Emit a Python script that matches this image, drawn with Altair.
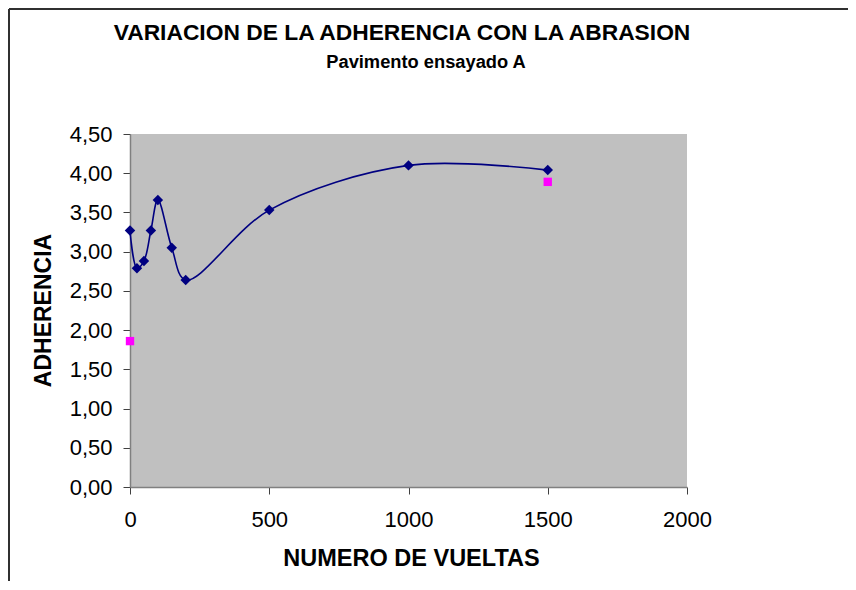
import altair as alt
import pandas as pd

# Data
vueltas = [0, 25, 50, 75, 100, 150, 200, 500, 1000, 1500]
adherencia = [3.27, 2.79, 2.88, 3.27, 3.66, 3.05, 2.64, 3.53, 4.10, 4.04]
vueltas_b = [0, 1500]
adherencia_b = [1.86, 3.89]

x_ticks = [0, 500, 1000, 1500, 2000]
y_ticks = [0, 0.5, 1.0, 1.5, 2.0, 2.5, 3.0, 3.5, 4.0, 4.5]

title_text = "VARIACION DE LA ADHERENCIA CON LA ABRASION"
subtitle_text = "Pavimento ensayado A"

df_a = pd.DataFrame({"vueltas": vueltas, "adherencia": adherencia})
df_b = pd.DataFrame({"vueltas": vueltas_b, "adherencia": adherencia_b})

FONT = "Liberation Sans"

x_enc = alt.X(
    "vueltas:Q",
    scale=alt.Scale(domain=[0, 2000], nice=False),
    axis=alt.Axis(
        values=x_ticks,
        title="NUMERO DE VUELTAS",
        grid=False,
        format="d",
        labelFlush=False,
        labelFontSize=22,
        labelFont=FONT,
        labelColor="#000000",
        labelBaseline="alphabetic",
        labelPadding=32,
        tickSize=7,
        tickColor="#404040",
        domainColor="#808080",
        domainWidth=1.5,
        titleFont=FONT,
        titleFontSize=23.5,
        titleFontWeight="bold",
        titleColor="#000000",
        titleX=281,
        titleY=78,
        titleBaseline="alphabetic",
        titleAlign="center",
    ),
)

y_enc = alt.Y(
    "adherencia:Q",
    scale=alt.Scale(domain=[0, 4.5], nice=False),
    axis=alt.Axis(
        values=y_ticks,
        title="ADHERENCIA",
        grid=False,
        labelFlush=False,
        labelExpr="replace(format(datum.value, '.2f'), '.', ',')",
        labelFontSize=22,
        labelFont=FONT,
        labelColor="#000000",
        labelPadding=11,
        tickSize=7,
        tickColor="#404040",
        domainColor="#808080",
        domainWidth=1.5,
        titleFont=FONT,
        titleFontSize=23,
        titleFontWeight="bold",
        titleColor="#000000",
        titleX=-80,
        titleY=176,
        titleAngle=270,
        titleBaseline="alphabetic",
        titleAlign="center",
    ),
)

base_a = alt.Chart(df_a)

line = base_a.mark_line(color="#000080", strokeWidth=1.6, interpolate="catmull-rom").encode(
    x=x_enc, y=y_enc
)
pts_a = base_a.mark_point(
    shape="diamond", filled=True, color="#000080", size=110, opacity=1
).encode(x=x_enc, y=y_enc)
pts_b = alt.Chart(df_b).mark_point(
    shape="square", filled=True, color="#FF00FF", size=70, opacity=1
).encode(x=x_enc, y=y_enc)

frame_df = pd.DataFrame({"k": [0]})
frame_left = alt.Chart(frame_df).mark_rule(color="#303030", strokeWidth=2).encode(
    x=alt.value(-121), y=alt.value(-125), y2=alt.value(460)
)
frame_top = alt.Chart(frame_df).mark_rule(color="#303030", strokeWidth=2).encode(
    x=alt.value(-121), x2=alt.value(740), y=alt.value(-125)
)

title_df = pd.DataFrame({"t": [title_text]})
subtitle_df = pd.DataFrame({"t": [subtitle_text]})
title_mark = alt.Chart(title_df).mark_text(
    font=FONT, fontSize=22.8, fontWeight="bold", color="#000000",
    align="center", baseline="alphabetic"
).encode(text="t:N", x=alt.value(272), y=alt.value(-94))
subtitle_mark = alt.Chart(subtitle_df).mark_text(
    font=FONT, fontSize=18.3, fontWeight="bold", color="#000000",
    align="center", baseline="alphabetic"
).encode(text="t:N", x=alt.value(296), y=alt.value(-66))

chart = (
    alt.layer(frame_left, frame_top, line, pts_a, pts_b, title_mark, subtitle_mark)
    .properties(
        width=557,
        height=353,
        autosize=alt.AutoSizeParams(type="none"),
        padding={"left": 122, "top": 126, "right": 161, "bottom": 94},
    )
    .configure(background="#FFFFFF")
    .configure_view(fill="#C0C0C0", stroke=None, strokeWidth=0)
)

chart.save("out.html", embed_options={"renderer": "svg", "actions": False})
